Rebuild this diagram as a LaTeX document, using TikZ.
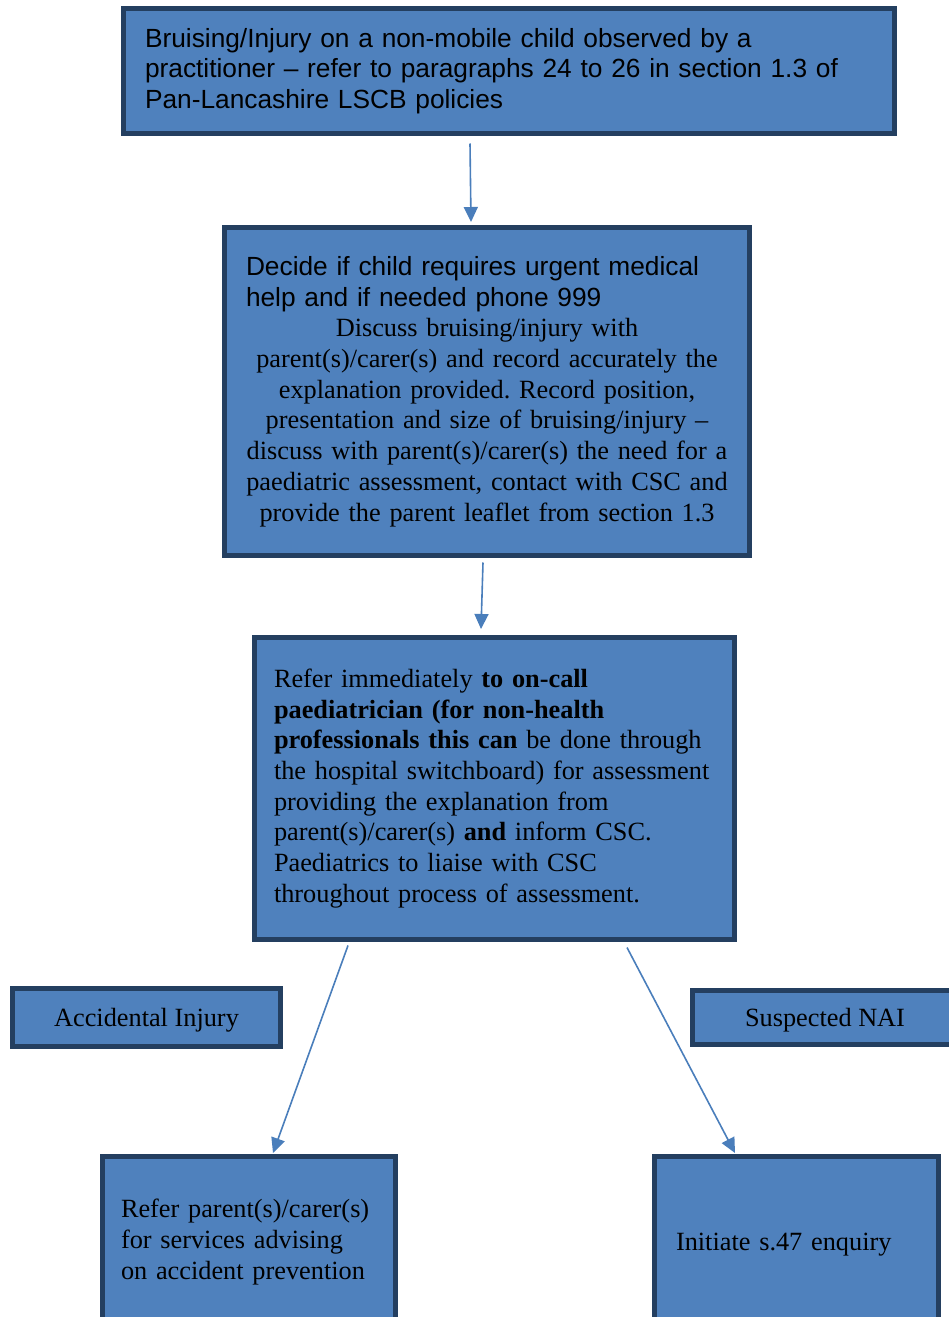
\documentclass[tikz,border=0pt]{standalone}
\usepackage{fontspec}
\setmainfont{Liberation Serif}
\newfontfamily\arialfont{Liberation Sans}
\usetikzlibrary{arrows.meta}
\definecolor{boxfill}{HTML}{4F81BD}
\definecolor{boxline}{HTML}{243F60}
\definecolor{arrowblue}{HTML}{4A7EBB}
\frenchspacing

\begin{document}
\begin{tikzpicture}[x=1pt,y=-1pt,
    box/.style={draw=boxline, fill=boxfill, line width=5pt, inner sep=0pt,
        font=\fontsize{26.3}{30.7}\selectfont},
    sansbox/.style={box, font=\arialfont\fontsize{26.3}{30.2}\selectfont},
    arr/.style={draw=arrowblue, line width=1.6pt, -{Triangle[length=15pt,width=14pt]}}]
\useasboundingbox (0,0) rectangle (949,1317);
\clip (0,0) rectangle (949,1317);

\node[sansbox, minimum width=771pt, minimum height=125pt, text width=728pt, align=left]
    (observed) at (509,71)
    {Bruising/Injury on a non-mobile child observed by a\\
     practitioner – refer to paragraphs 24 to 26 in section 1.3 of\\
     Pan-Lancashire LSCB policies};

\node[box, minimum width=525pt, minimum height=328pt, text width=510pt, align=center]
    (decide) at (487,391.5)
    {\makebox[\linewidth][l]{\hspace*{14pt}\arialfont Decide if child requires urgent medical}\\
     \makebox[\linewidth][l]{\hspace*{14pt}\arialfont help and if needed phone 999}\\
     Discuss bruising/injury with\\
     parent(s)/carer(s) and record accurately the\\
     explanation provided. Record position,\\
     presentation and size of bruising/injury –\\
     discuss with parent(s)/carer(s) the need for a\\
     paediatric assessment, contact with CSC and\\
     provide the parent leaflet from section 1.3};

\node[box, minimum width=480pt, minimum height=302pt, text width=441pt, align=left]
    (referpaed) at (494.5,788.5)
    {Refer immediately \textbf{to on-call}\\
     \textbf{paediatrician (for non-health}\\
     \textbf{professionals this can} be done through\\
     the hospital switchboard) for assessment\\
     providing the explanation from\\
     parent(s)/carer(s) \textbf{and} inform CSC.\\
     Paediatrics to liaise with CSC\\
     throughout process of assessment.};

\node[box, minimum width=268pt, minimum height=58pt, text depth=0pt] (accidental) at (146.5,1017.5) {Accidental Injury};
\node[box, minimum width=265pt, minimum height=54pt, text depth=0pt] (nai) at (825,1017.5) {Suspected NAI};

\node[box, minimum width=293pt, minimum height=171pt, text width=256pt, align=left]
    (prevention) at (249,1242)
    {Refer parent(s)/carer(s)\\
     for services advising\\
     on accident prevention};
\node[box, minimum width=284pt, minimum height=177pt, text width=241pt, align=left]
    (enquiry) at (796.5,1245)
    {Initiate s.47 enquiry};

\draw[arr] ([xshift=-39pt,yshift=-7.5pt]observed.south) -- ([xshift=-16pt,yshift=3pt]decide.north);
\draw[arr] ([xshift=-4pt,yshift=-4.5pt]decide.south) -- ([xshift=-13.5pt,yshift=6pt]referpaed.north);
\draw[arr] ([xshift=-146.5pt,yshift=-3.5pt]referpaed.south) -- ([xshift=24pt,yshift=1pt]prevention.north);
\draw[arr] ([xshift=132.5pt,yshift=-5.5pt]referpaed.south) -- ([xshift=-61.5pt,yshift=1pt]enquiry.north);

\end{tikzpicture}
\end{document}
